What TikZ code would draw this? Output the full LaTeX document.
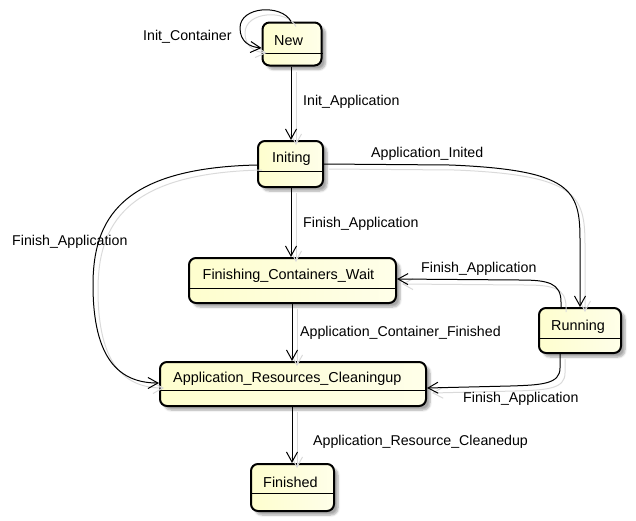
\documentclass[tikz,border=0pt]{standalone}
\usepackage{fontspec}
\setmainfont{Liberation Sans}
\usetikzlibrary{arrows.meta,shadows.blur}
\definecolor{stateyellow}{RGB}{254,254,206}
\definecolor{shadowgray}{RGB}{218,218,218}
\tikzset{
  statebox/.style={draw=black, line width=2pt, rounded corners=7pt, inner sep=0pt,
    left color=stateyellow, right color=stateyellow!45!white,
    blur shadow={shadow xshift=4pt, shadow yshift=-4pt, shadow blur steps=6, shadow opacity=35}},
  stext/.style={inner sep=0pt, anchor=west, font=\fontsize{14.4}{17}\selectfont},
  ltext/.style={inner sep=0pt, anchor=west, font=\fontsize{14.2}{17}\selectfont},
  divider/.style={line width=1pt},
  trans/.style={line width=1pt, -{Straight Barb[length=10pt,width=11pt,line width=1pt]},
    preaction={draw=shadowgray, line width=1pt, transform canvas={xshift=5pt,yshift=-5pt}}},
}
\begin{document}
\begin{tikzpicture}[x=1pt,y=-1pt]
\useasboundingbox (0,0) rectangle (636,520);
% states
\node[statebox, minimum width=59pt, minimum height=43pt] (new) at (292,44) {};
\node[stext] (newt) at (274,40.5) {New};
\draw[divider] (new.west |- 0,53) -- (new.east |- 0,53);

\node[statebox, minimum width=65pt, minimum height=46pt] (initing) at (290.5,164) {};
\node[stext] (initingt) at (272,158.5) {Initing};
\draw[divider] (initing.west |- 0,171) -- (initing.east |- 0,171);

\node[statebox, minimum width=207pt, minimum height=45pt] (fcw) at (292.5,280.5) {};
\node[stext] (fcwt) at (202.5,275.5) {Finishing\_Containers\_Wait};
\draw[divider] (fcw.west |- 0,288) -- (fcw.east |- 0,288);

\node[statebox, minimum width=82pt, minimum height=45pt] (running) at (580,330.5) {};
\node[stext] (runningt) at (551,326.5) {Running};
\draw[divider] (running.west |- 0,338) -- (running.east |- 0,338);

\node[statebox, minimum width=266pt, minimum height=44pt] (arc) at (293,384) {};
\node[stext] (arct) at (173,378.5) {Application\_Resources\_Cleaningup};
\draw[divider] (arc.west |- 0,390) -- (arc.east |- 0,390);

\node[statebox, minimum width=83pt, minimum height=47pt] (finished) at (292.5,487.5) {};
\node[stext] (finishedt) at (263,482.5) {Finished};
\draw[divider] (finished.west |- 0,493) -- (finished.east |- 0,493);

% coordinates for connector ends
\coordinate (loopA) at (new.north -| 291,0);
\coordinate (loopB) at (new.west |- 0,48);
\coordinate (runTop) at (running.north -| 580,0);
\coordinate (runTopL) at (running.north -| 561,0);
\coordinate (runBotL) at (running.south -| 560,0);
\coordinate (iniE) at (initing.east |- 0,164);
\coordinate (iniW) at (initing.west |- 0,165);
\coordinate (fcwE) at (fcw.east |- 0,279);
\coordinate (arcE) at (arc.east |- 0,388);
\coordinate (arcW) at (arc.west |- 0,383);

% transitions
\draw[trans] (loopA) .. controls (282,4) and (240,6) .. (240,28) .. controls (240,42) and (250,47) .. (loopB);
\draw[trans] (new.south -| 291,0) -- (initing.north -| 291,0);
\draw[trans] (initing.south -| 291,0) -- (fcw.north -| 291,0);
\draw[trans] (iniE) -- (450,165) .. controls (572,170) and (580,190) .. (580,240) -- (runTop);
\draw[trans] (iniW) .. controls (120,168) and (93,220) .. (93,285) .. controls (93,360) and (120,383) .. (arcW);
\draw[trans] (runTopL) -- (561,302) .. controls (561,283) and (548,280) .. (520,280) -- (fcwE);
\draw[trans] (fcw.south -| 292,0) -- (arc.north -| 292,0);
\draw[trans] (runBotL) -- (560,368) .. controls (560,384) and (542,385) .. (510,386) -- (arcE);
\draw[trans] (arc.south -| 292,0) -- (finished.north -| 292,0);

% labels
\node[ltext] (l1) at (143,37) {Init\_Container};
\node[ltext] (l2) at (303,102) {Init\_Application};
\node[ltext] (l3) at (371,154) {Application\_Inited};
\node[ltext] (l4) at (12,242) {Finish\_Application};
\node[ltext] (l5) at (303,224) {Finish\_Application};
\node[ltext] (l6) at (421,269) {Finish\_Application};
\node[ltext] (l7) at (300,333) {Application\_Container\_Finished};
\node[ltext] (l8) at (463,399) {Finish\_Application};
\node[ltext] (l9) at (313,442) {Application\_Resource\_Cleanedup};
\end{tikzpicture}
\end{document}
